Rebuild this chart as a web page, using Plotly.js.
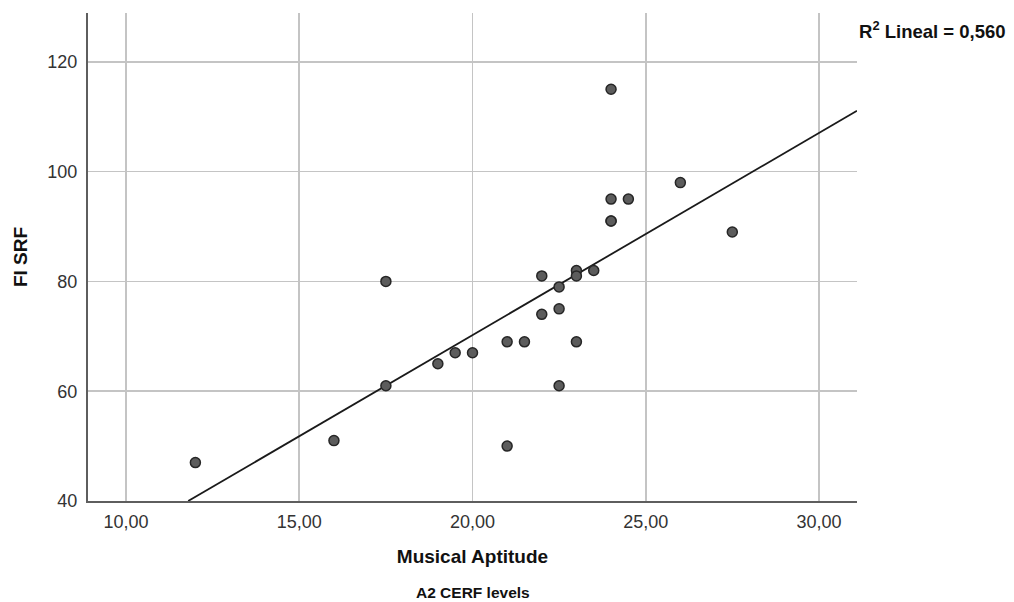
<!DOCTYPE html>
<html>
<head>
<meta charset="utf-8">
<script src="https://cdn.plot.ly/plotly-3.0.1.min.js"></script>
<style>html,body{margin:0;padding:0;background:#fff;}#chart{width:1014px;height:602px;}</style>
</head>
<body>
<div id="chart"></div>
<script>
// Musical Aptitude (x) vs FI SRF (y)
var musicalAptitude = [12, 16, 17.5, 17.5, 19, 19.5, 20, 21, 21.5, 21, 22, 22, 22.5, 22.5, 22.5, 23, 23, 23, 23.5, 24, 24, 24.5, 24, 24, 26, 27.5];
var fiSRF =           [47, 51, 80,   61,   65, 67,   67, 69, 69,   50, 74, 81, 79,   75,   61,   69, 82, 81, 82,   115, 95, 95,   91, 91, 98, 89];
var xTicks = [10, 15, 20, 25, 30];
var yTicks = [40, 60, 80, 100, 120];
var r2Label = 'R<sup>2</sup> Lineal = 0,560';

var xRange = [8.9, 31.1];
var yRange = [40, 128.9];

// least squares fit computed from the data
var n = musicalAptitude.length, mx = 0, my = 0;
for (var i = 0; i < n; i++) { mx += musicalAptitude[i]; my += fiSRF[i]; }
mx /= n; my /= n;
var sxy = 0, sxx = 0;
for (var i = 0; i < n; i++) { sxy += (musicalAptitude[i]-mx)*(fiSRF[i]-my); sxx += Math.pow(musicalAptitude[i]-mx, 2); }
var slope = sxy / sxx, intercept = my - slope * mx;
var xStart = (yRange[0] - intercept) / slope;
var fitX = [xStart, xRange[1]];
var fitY = fitX.map(function (v) { return intercept + slope * v; });

var font = 'Arial, "Liberation Sans", sans-serif';

var data = [
  {
    x: fitX, y: fitY, type: 'scatter', mode: 'lines',
    line: {color: '#1a1a1a', width: 1.8}, hoverinfo: 'skip', showlegend: false, cliponaxis: true
  },
  {
    x: musicalAptitude, y: fiSRF, type: 'scatter', mode: 'markers',
    marker: {size: 10, color: '#5c5c5c', line: {color: '#262626', width: 1.5}},
    showlegend: false, cliponaxis: false
  }
];

var layout = {
  width: 1014, height: 602,
  margin: {l: 88, r: 157, t: 13, b: 101},
  paper_bgcolor: '#fff', plot_bgcolor: '#fff',
  font: {family: font, size: 18, color: '#333'},
  separators: ',.',
  showlegend: false,
  xaxis: {
    range: xRange, tickvals: xTicks, tickformat: '.2f',
    showgrid: true, gridcolor: '#c4c4c4', gridwidth: 1.6,
    zeroline: false, showline: true, linecolor: '#5e5e5e', linewidth: 2,
    ticks: '', ticklabelstandoff: 3,
    tickfont: {family: font, size: 18, color: '#333'},
    title: {text: '<b>Musical Aptitude</b>', font: {family: font, size: 19, color: '#111'}, standoff: 19}
  },
  yaxis: {
    range: yRange, tickvals: yTicks,
    showgrid: true, gridcolor: '#c4c4c4', gridwidth: 1.6,
    zeroline: false, showline: true, linecolor: '#5e5e5e', linewidth: 2,
    ticks: '', ticklabelstandoff: 5,
    tickfont: {family: font, size: 18, color: '#333'},
    title: {text: '<b>FI SRF</b>', font: {family: font, size: 19, color: '#111'}, standoff: 15}
  },
  annotations: [
    {
      text: '<b>' + r2Label + '</b>', xref: 'paper', yref: 'paper',
      x: 1.0, y: 0.966, xanchor: 'left', yanchor: 'middle', showarrow: false,
      font: {family: font, size: 18.5, color: '#111'}
    },
    {
      text: '<b>A2 CERF levels</b>', xref: 'paper', yref: 'paper',
      x: 0.5, y: -0.187, xanchor: 'center', yanchor: 'middle', showarrow: false,
      font: {family: font, size: 15.5, color: '#111'}
    }
  ]
};

Plotly.newPlot('chart', data, layout, {displayModeBar: false, staticPlot: true});
</script>
</body>
</html>
